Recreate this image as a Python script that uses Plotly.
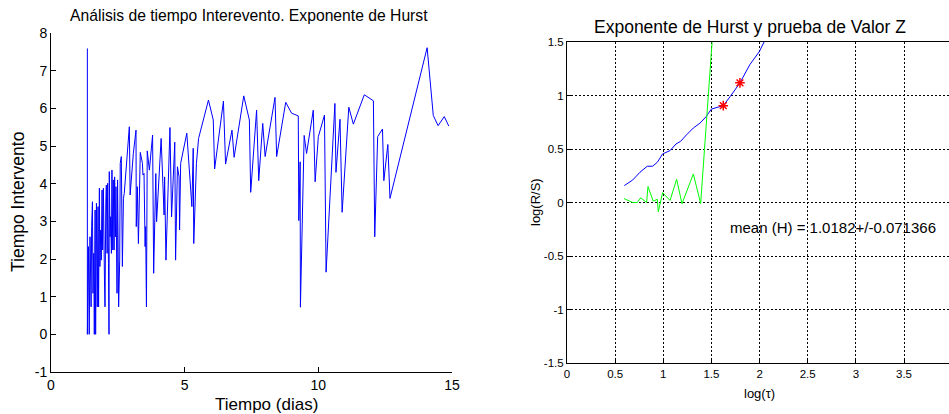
import plotly.graph_objects as go

W, H = 949, 414

# ---- Left chart data: tiempo (dias) vs tiempo interevento ----
t_dias = [1.36, 1.36, 1.40, 1.43, 1.46, 1.50, 1.52, 1.55, 1.57, 1.60,
          1.62, 1.65, 1.67, 1.70, 1.73, 1.76, 1.78, 1.81, 1.83, 1.86,
          1.88, 1.91, 1.93, 1.96, 2.00, 2.02, 2.05, 2.07, 2.10, 2.12,
          2.15, 2.17, 2.18, 2.21, 2.23, 2.26, 2.28, 2.31, 2.33, 2.36,
          2.38, 2.41, 2.43, 2.47, 2.49, 2.53, 2.57, 2.59, 2.63, 2.67,
          2.71, 2.74, 2.93, 2.96, 3.08, 3.18, 3.19, 3.23, 3.27, 3.34,
          3.42, 3.44, 3.48, 3.52, 3.54, 3.57, 3.60, 3.68, 3.80, 3.84,
          3.92, 3.95, 4.12, 4.23, 4.25, 4.30, 4.45, 4.51, 4.63, 4.66,
          4.73, 4.79, 4.81, 4.85, 5.08, 5.21, 5.27, 5.32, 5.34, 5.44,
          5.52, 5.89, 6.07, 6.12, 6.45, 6.53, 6.77, 6.85, 7.21, 7.42,
          7.47, 7.69, 7.77, 7.92, 8.01, 8.38, 8.44, 8.78, 9.00, 9.25,
          9.27, 9.32, 9.33, 9.47, 9.56, 9.81, 9.88, 10.00, 10.23, 10.29,
          10.62, 10.66, 10.81, 10.89, 11.14, 11.31, 11.72, 12.06, 12.11, 12.22,
          12.40, 12.45, 12.60, 12.68, 14.07, 14.30, 14.48, 14.71, 14.88]
t_inter = [7.59, 0.00, 2.33, 0.00, 2.59, 0.73, 2.86, 3.52, 1.09, 2.15,
           0.00, 3.30, 0.00, 3.48, 0.73, 3.39, 0.73, 3.88, 1.80, 2.77,
           1.97, 3.83, 2.24, 3.88, 1.44, 0.73, 3.48, 3.96, 2.15, 4.01,
           1.88, 0.00, 4.32, 2.59, 3.12, 2.15, 4.36, 2.24, 4.10, 2.24,
           4.18, 2.59, 3.92, 1.09, 4.10, 0.73, 1.97, 4.54, 4.72, 1.80,
           3.61, 3.74, 5.51, 3.70, 4.80, 5.42, 2.86, 3.92, 2.41, 4.83,
           4.54, 4.23, 4.27, 2.33, 2.86, 0.73, 4.87, 4.36, 5.29, 1.62,
           4.27, 2.99, 5.20, 3.17, 4.18, 1.97, 5.49, 3.12, 5.10, 1.97,
           4.45, 4.18, 2.77, 4.54, 5.34, 4.05, 3.39, 4.94, 2.41, 4.54,
           5.20, 6.22, 5.69, 4.39, 6.19, 4.52, 5.42, 4.70, 6.33, 5.69,
           3.77, 5.95, 4.08, 5.60, 4.72, 6.29, 4.72, 6.16, 5.87, 5.80,
           3.02, 4.58, 0.72, 5.28, 4.80, 5.95, 4.05, 5.25, 5.82, 1.65,
           6.13, 4.30, 5.71, 3.24, 6.03, 5.58, 6.36, 6.20, 2.59, 5.25,
           5.45, 4.08, 5.04, 3.61, 7.61, 5.81, 5.54, 5.78, 5.53]

# ---- Right chart data: Hurst R/S analysis ----
log_tau = [0.595, 0.682, 0.758, 0.834, 0.889, 0.938, 0.993, 1.07, 1.132, 1.18,
           1.243, 1.312, 1.381, 1.443, 1.499, 1.554, 1.623, 1.693, 1.796, 1.90,
           1.997, 2.08]
log_rs = [0.158, 0.21, 0.283, 0.339, 0.339, 0.376, 0.454, 0.485, 0.547, 0.572,
          0.634, 0.696, 0.742, 0.80, 0.873, 0.888, 0.905, 0.988, 1.118, 1.29,
          1.41, 1.56]

z_tau = [0.592, 0.682, 0.730, 0.765, 0.827, 0.841, 0.896, 0.938, 0.948, 0.993,
         1.07, 1.139, 1.194, 1.312, 1.388, 1.554]
z_val = [0.037, 0.0, 0.0, 0.044, 0.0, 0.149, 0.012, 0.03, -0.087, 0.093,
         0.019, 0.217, -0.012, 0.267, -0.01, 2.1]

star_tau = [1.623, 1.796]
star_rs = [0.905, 1.118]

x_ticks_right = [0, 0.5, 1, 1.5, 2, 2.5, 3, 3.5]
x_ticklabels_right = ["0", "0.5", "1", "1.5", "2", "2.5", "3", "3.5"]
y_ticks_right = [-1.5, -1, -0.5, 0, 0.5, 1, 1.5]
y_ticklabels_right = ["-1.5", "-1", "-0.5", "0", "0.5", "1", "1.5"]

FONT = "Liberation Sans, Arial, sans-serif"

fig = go.Figure()
fig.add_trace(go.Scatter(x=t_dias, y=t_inter, mode="lines",
                         line=dict(color="#0000FF", width=1),
                         xaxis="x", yaxis="y", showlegend=False))
fig.add_trace(go.Scatter(x=log_tau, y=log_rs, mode="lines",
                         line=dict(color="#0000FF", width=1),
                         xaxis="x2", yaxis="y2", showlegend=False))
fig.add_trace(go.Scatter(x=z_tau, y=z_val, mode="lines",
                         line=dict(color="#00FF00", width=1),
                         xaxis="x2", yaxis="y2", showlegend=False))
fig.add_trace(go.Scatter(x=star_tau, y=star_rs, mode="markers",
                         marker=dict(symbol="asterisk-open", size=8, color="#FF0000",
                                     line=dict(color="#FF0000", width=1.5)),
                         xaxis="x2", yaxis="y2", showlegend=False))

def px_x(p):
    return p / W

def px_y(p):
    return 1 - p / H

x_right_end = (W - 567) / 96.29

common = dict(showline=True, linecolor="black", linewidth=1, ticks="inside",
              tickcolor="black", zeroline=False, automargin=False)

fig.update_layout(
    width=W, height=H,
    margin=dict(l=0, r=0, t=0, b=0, autoexpand=False),
    paper_bgcolor="white", plot_bgcolor="white",
    font=dict(family=FONT, color="black"),
    xaxis=dict(domain=[px_x(51), px_x(452)], range=[0, 15], tickvals=[0, 5, 10, 15],
               ticktext=["0", "5", "10", "15"], mirror=False, ticklen=5,
               showgrid=False, tickfont=dict(size=14), anchor="y", **common),
    yaxis=dict(domain=[px_y(372), px_y(33)], range=[-1, 8],
               tickvals=list(range(-1, 9)), ticktext=[str(v) for v in range(-1, 9)],
               mirror=False, ticklen=5,
               showgrid=False, tickfont=dict(size=14), anchor="x", **common),
    xaxis2=dict(domain=[px_x(567), 1.0], range=[0, x_right_end],
                tickvals=x_ticks_right, ticktext=x_ticklabels_right,
                mirror=True, ticklen=4,
                showgrid=True, gridcolor="black", gridwidth=1, griddash="2px,2px",
                tickfont=dict(size=11.5), anchor="y2", **common),
    yaxis2=dict(domain=[px_y(363), px_y(42)], range=[-1.5, 1.5],
                tickvals=y_ticks_right, ticktext=y_ticklabels_right,
                mirror=False, ticklen=4,
                showgrid=True, gridcolor="black", gridwidth=1, griddash="2px,2px",
                tickfont=dict(size=11.5), anchor="x2", **common),
)

ann = [
    dict(text="Análisis de tiempo Interevento. Exponente de Hurst", x=px_x(249), y=px_y(16),
         font=dict(size=15.7)),
    dict(text="Tiempo (dias)", x=px_x(266), y=px_y(404), font=dict(size=17)),
    dict(text="Tiempo Intervento", x=px_x(18), y=px_y(202), font=dict(size=17.5), textangle=-90),
    dict(text="Exponente de Hurst y prueba de Valor Z", x=px_x(750), y=px_y(27),
         font=dict(size=17.5)),
    dict(text="log(τ)", x=px_x(759), y=px_y(393), font=dict(size=13)),
    dict(text="log(R/S)", x=px_x(536), y=px_y(202), font=dict(size=13), textangle=-90),
]
for a in ann:
    fig.add_annotation(xref="paper", yref="paper", showarrow=False,
                       xanchor="center", yanchor="middle", **a)

fig.add_annotation(xref="x2", yref="y2", x=1.67, y=-0.23, showarrow=False,
                   xanchor="left", yanchor="middle",
                   text="mean (H) = 1.0182+/-0.071366", font=dict(size=15))

fig.write_html("out.html")
